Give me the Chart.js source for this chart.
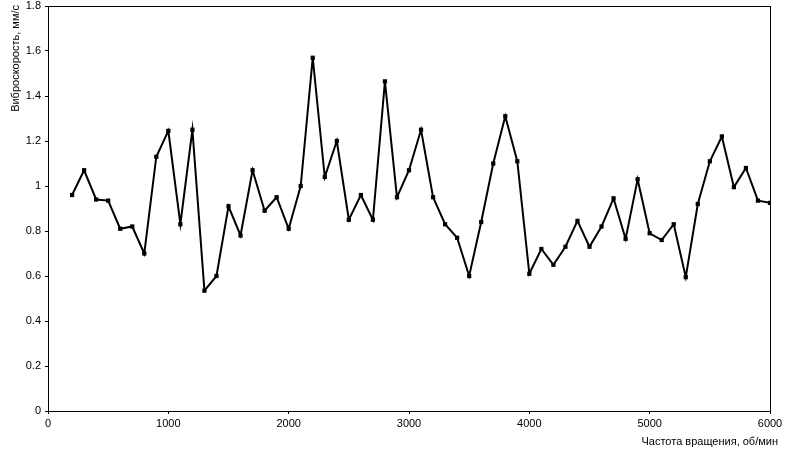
<!DOCTYPE html>
<html>
<head>
<meta charset="utf-8">
<script src="https://cdn.jsdelivr.net/npm/chart.js@4/dist/chart.umd.min.js"></script>
<style>
  html, body { margin: 0; padding: 0; background: #fff; }
  #wrap { width: 800px; height: 454px; position: relative; }
</style>
</head>
<body>
<div id="wrap"><canvas id="vibroChart"></canvas></div>
<script>
// частота вращения, об/мин
const rpm = [200, 300, 400, 500, 600, 700, 800, 900, 1000, 1100, 1200, 1300, 1400, 1500, 1600, 1700, 1800, 1900, 2000,
    2100, 2200, 2300, 2400, 2500, 2600, 2700, 2800, 2900, 3000, 3100, 3200, 3300, 3400, 3500, 3600, 3700, 3800, 3900, 4000,
    4100, 4200, 4300, 4400, 4500, 4600, 4700, 4800, 4900, 5000, 5100, 5200, 5300, 5400, 5500, 5600, 5700, 5800, 5900, 6000];
// виброскорость, мм/с
const velocity = [0.96, 1.07, 0.94, 0.935, 0.81, 0.82, 0.70, 1.13, 1.245, 0.83, 1.25, 0.535, 0.60, 0.91, 0.78, 1.07, 0.89, 0.95, 0.81,
    1.00, 1.57, 1.04, 1.20, 0.85, 0.96, 0.85, 1.465, 0.95, 1.07, 1.25, 0.95, 0.83, 0.77, 0.60, 0.84, 1.10, 1.31, 1.11, 0.61,
    0.72, 0.65, 0.73, 0.845, 0.73, 0.82, 0.945, 0.765, 1.03, 0.79, 0.76, 0.83, 0.595, 0.92, 1.11, 1.22, 0.995, 1.08, 0.935, 0.925];

const xTitle = 'Частота вращения, об/мин';
const yTitle = 'Виброскорость, мм/с';

const font = 'Arial, "Liberation Sans", sans-serif';

const frame = {
    id: 'frame',
    afterDraw(chart) {
        const { ctx, chartArea: a } = chart;
        ctx.save();
        ctx.strokeStyle = '#000';
        ctx.lineWidth = 1;
        ctx.strokeRect(a.left + 0.5, a.top + 0.5, a.right - a.left, a.bottom - a.top);
        ctx.fillStyle = '#000';
        ctx.font = '11px ' + font;
        ctx.textAlign = 'right';
        ctx.textBaseline = 'alphabetic';
        ctx.fillText(xTitle, 778, 445);
        ctx.translate(19, 5);
        ctx.rotate(-Math.PI / 2);
        ctx.textAlign = 'right';
        ctx.fillText(yTitle, 0, 0);
        ctx.restore();
    }
};

new Chart(document.getElementById('vibroChart').getContext('2d'), {
    type: 'line',
    data: {
        datasets: [{
            data: rpm.map((x, i) => ({ x: x, y: velocity[i] })),
            borderColor: '#000',
            backgroundColor: '#000',
            borderWidth: 2,
            pointStyle: 'rect',
            pointRadius: 3,
            pointBorderWidth: 0,
            tension: 0
        }]
    },
    options: {
        responsive: true,
        maintainAspectRatio: false,
        animation: false,
        layout: { padding: { top: 6, right: 30, bottom: 0, left: 0 } },
        plugins: { legend: { display: false }, tooltip: { enabled: false } },
        scales: {
            x: {
                type: 'linear',
                min: 0, max: 6000,
                afterFit(s) { s.height = 43; s.paddingRight = 0; },
                grid: { drawOnChartArea: false, color: '#000', tickLength: 3, tickColor: '#000' },
                border: { color: '#000', width: 1 },
                ticks: {
                    stepSize: 1000, color: '#000', font: { family: font, size: 11 }, padding: 3, maxRotation: 0,
                    callback: v => String(v)
                }
            },
            y: {
                min: 0, max: 1.8,
                afterFit(s) { s.width = 48; s.paddingTop = 0; },
                grid: { drawOnChartArea: false, color: '#000', tickLength: 3, tickColor: '#000' },
                border: { color: '#000', width: 1 },
                ticks: {
                    stepSize: 0.2, color: '#000', font: { family: font, size: 11 }, padding: 4,
                    callback: v => String(Math.round(v * 10) / 10)
                }
            }
        }
    },
    plugins: [frame]
});
</script>
</body>
</html>
